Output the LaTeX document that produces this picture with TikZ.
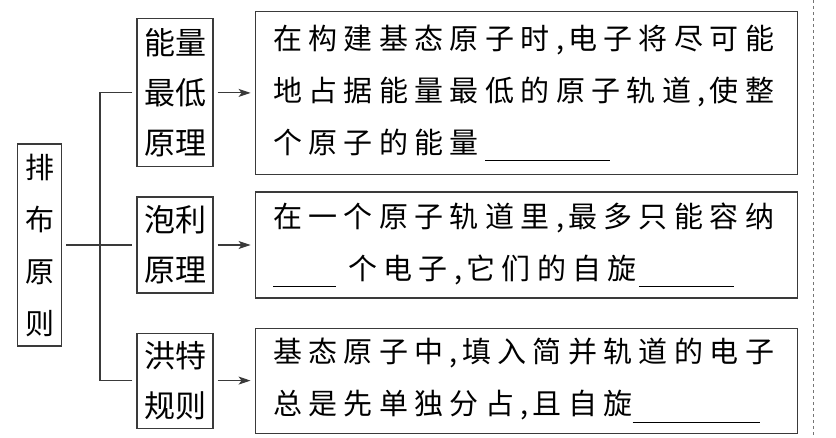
\documentclass[tikz,border=0pt]{standalone}
\usepackage{fontspec}
\setmainfont{Noto Sans CJK SC}
\newfontfamily\cjkwide[LetterSpace=22]{Noto Sans CJK SC}
\usepackage{xcolor}
\usetikzlibrary{positioning}
\usetikzlibrary{arrows.meta}
\definecolor{inkgray}{HTML}{3A3A3A}
\tikzset{
	rootbox/.style={draw=inkgray,line width=1.1pt,minimum width=44pt,minimum height=202pt,inner sep=0pt,align=center,anchor=center,font=\fontsize{29}{52}\selectfont},
	rulebox/.style={draw=inkgray,line width=1.1pt,minimum width=76pt,inner sep=0pt,align=center,anchor=center,font=\fontsize{31}{50}\selectfont},
	detail/.style={draw=inkgray,line width=1.1pt,text width=506pt,inner xsep=18pt,inner ysep=0pt,align=left,anchor=center,font=\cjkwide\fontsize{29}{52}\selectfont},
	branch/.style={draw=inkgray,line width=1.1pt,shorten <=4pt,shorten >=4pt},
	line/.style={draw=inkgray,line width=1.1pt,-{Stealth[length=12pt,width=8pt,inset=3pt]},shorten <=4pt,shorten >=4pt},
}
\newcommand{\fillin}[1]{\rule[-8pt]{#1}{0.9pt}}
\newcommand{\cm}{,\hspace{4pt}}

\begin{document}
\begin{tikzpicture}[x=1pt,y=-1pt]
	\useasboundingbox (0,0) rectangle (836,437);
	
	% Principles
	\node[rulebox,minimum height=96pt] (pauli) at (175,245) {泡利\\原理};
	\node[rulebox,minimum height=148pt,above=29pt of pauli] (energy) {能量\\最低\\原理};
	\node[rulebox,minimum height=95pt,below=39pt of pauli] (hund) {洪特\\规则};
	
	% Root
	\node[rootbox,left=74pt of pauli] (root) {排\\布\\原\\则};
	\coordinate (fork) at (100,245);
	
	% Details
	\node[detail,minimum height=163pt,right=41pt of energy] (energytxt) {在构建基态原子时\cm 电子将尽可能\\地占据能量最低的原子轨道\cm 使整\\个原子的能量\hspace{6pt}\fillin{125pt}};
	\node[detail,minimum height=106pt,right=41pt of pauli] (paulitxt) {在一个原子轨道里\cm 最多只能容纳\\\fillin{63pt}\hspace{12pt}个电子\cm 它们的自旋\hspace{2pt}\fillin{95pt}};
	\node[detail,minimum height=105pt,right=41pt of hund] (hundtxt) {基态原子中\cm 填入简并轨道的电子\\总是先单独分占\cm 且自旋\hspace{0pt}\fillin{127pt}};
	
	% Draw connections
	\draw[branch] (root) -- (pauli);
	\draw[branch,shorten >=0pt] (energy.west) -| (fork);
	\draw[branch,shorten >=0pt] (hund.west) -| (fork);
	\draw[line] (energy) -- (energytxt);
	\draw[line] (pauli) -- (paulitxt);
	\draw[line] (hund) -- (hundtxt);
	
	%% Page edge
	\draw[inkgray!70,line width=0.8pt,dash pattern=on 3pt off 3pt] (813,0) -- (813,437);
	
\end{tikzpicture}
\end{document}
